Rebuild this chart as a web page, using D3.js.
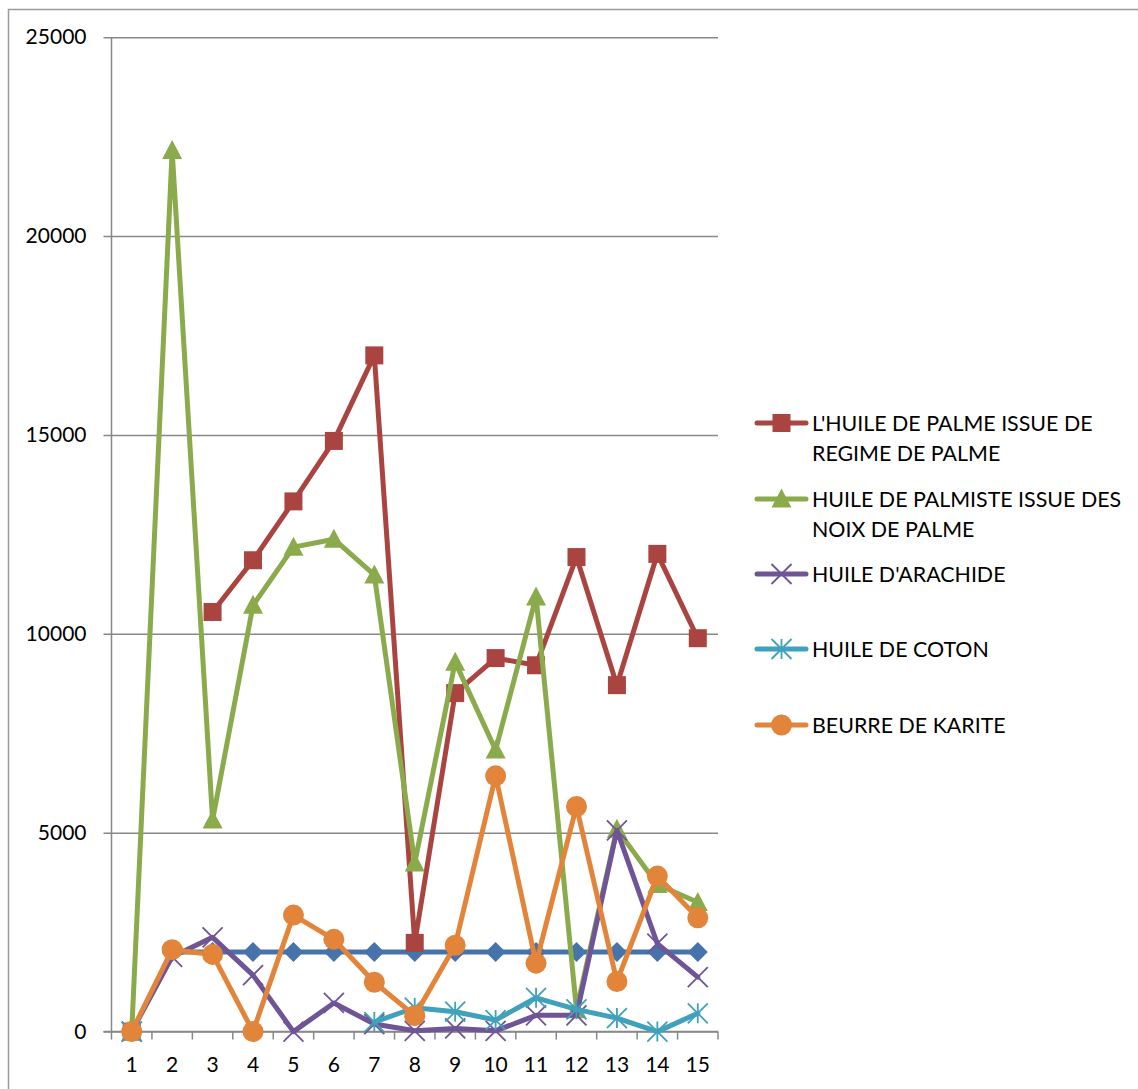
<!DOCTYPE html>
<html>
<head>
<meta charset="utf-8">
<script src="https://cdn.jsdelivr.net/npm/d3@7"></script>
<style>
  html, body { margin: 0; padding: 0; background: #fff; }
  svg { display: block; }
  text { font-family: Lato, "Open Sans", sans-serif; fill: #000; }
</style>
</head>
<body>
<svg id="chart" width="1138" height="1089"></svg>
<script>
// Categories along the x axis
const categories = [1, 2, 3, 4, 5, 6, 7, 8, 9, 10, 11, 12, 13, 14, 15];
const yTicks = [0, 5000, 10000, 15000, 20000, 25000];

// Series values (null = no value for that category)
const reference2000   = [null, 2000, 2000, 2000, 2000, 2000, 2000, 2000, 2000, 2000, 2000, 2000, 2000, 2000, 2000];
const huilePalme      = [0, null, 10550, 11850, 13330, 14850, 17000, 2230, 8510, 9390, 9210, 11930, 8710, 12010, 9890];
const huilePalmiste   = [0, 22150, 5320, 10720, 12180, 12380, 11480, 4240, 9290, 7080, 10930, 550, 5090, 3700, 3250];
const huileArachide   = [0, 1880, 2370, 1420, 0, 720, 190, 20, 80, 20, 410, 410, 5060, 2210, 1370];
const huileCoton      = [0, null, null, null, null, null, 240, 600, 500, 290, 850, 560, 340, 0, 460];
const beurreKarite    = [0, 2060, 1940, 0, 2930, 2320, 1240, 400, 2170, 6430, 1720, 5660, 1260, 3910, 2860];

const seriesNames = [
  "",
  "L'HUILE DE PALME ISSUE DE REGIME DE PALME",
  "HUILE DE PALMISTE ISSUE DES NOIX DE PALME",
  "HUILE D'ARACHIDE",
  "HUILE DE COTON",
  "BEURRE DE KARITE"
];

const series = [
  { name: seriesNames[0], values: reference2000, color: "#4674AA", marker: "diamond", legend: false },
  { name: seriesNames[1], values: huilePalme,    color: "#AA4441", marker: "square",  legend: true },
  { name: seriesNames[2], values: huilePalmiste, color: "#8AAA4B", marker: "triangle", legend: true },
  { name: seriesNames[3], values: huileArachide, color: "#6F5496", marker: "x",       legend: true },
  { name: seriesNames[4], values: huileCoton,    color: "#3FA1BB", marker: "star",    legend: true },
  { name: seriesNames[5], values: beurreKarite,  color: "#E3843B", marker: "circle",  legend: true }
];

const svg = d3.select("#chart");

// Outer chart border
svg.append("rect")
  .attr("x", 8.5).attr("y", 9.5)
  .attr("width", 1160).attr("height", 1100)
  .attr("fill", "none").attr("stroke", "#9a9a9a").attr("stroke-width", 1.5);

const plot = { left: 111.5, right: 718, top: 37.2, bottom: 1031.6 };

const x = d3.scalePoint().domain(categories).range([plot.left, plot.right]).padding(0.5);
const xBand = d3.scaleBand().domain(categories).range([plot.left, plot.right]);
const y = d3.scaleLinear().domain([0, 25000]).range([plot.bottom, plot.top]);

const gridColor = "#888888";

// Horizontal gridlines with outward ticks on the value axis
const yAxis = d3.axisLeft(y).tickValues(yTicks).tickSize(plot.right - plot.left + 8).tickFormat(d => d).tickPadding(17);
const yg = svg.append("g").attr("transform", `translate(${plot.right},0)`).call(yAxis);
yg.select(".domain").remove();
yg.selectAll(".tick line").attr("stroke", gridColor).attr("stroke-width", 1.5);
yg.selectAll(".tick text").style("font-size", "21px").style("font-family", "Lato, sans-serif").attr("fill", "#000");

// Vertical value axis line
svg.append("line")
  .attr("x1", plot.left).attr("x2", plot.left)
  .attr("y1", plot.top).attr("y2", plot.bottom)
  .attr("stroke", gridColor).attr("stroke-width", 1.5);

// Category axis: line, boundary ticks and labels
const xg = svg.append("g").attr("transform", `translate(0,${plot.bottom})`);
xg.append("line")
  .attr("x1", plot.left - 8).attr("x2", plot.right)
  .attr("stroke", gridColor).attr("stroke-width", 1.5);
const boundaries = categories.map(c => xBand(c)).concat([xBand(categories[categories.length - 1]) + xBand.bandwidth()]);
xg.selectAll("line.tk").data(boundaries).enter().append("line")
  .attr("class", "tk")
  .attr("x1", d => d).attr("x2", d => d)
  .attr("y1", 0).attr("y2", 8)
  .attr("stroke", gridColor).attr("stroke-width", 1.5);
xg.selectAll("text").data(categories).enter().append("text")
  .attr("x", d => x(d)).attr("y", 40)
  .attr("text-anchor", "middle")
  .style("font-size", "21px")
  .text(d => d);

// Marker shapes
function drawMarker(g, type, color, size) {
  const s = size;
  if (type === "diamond") {
    const r = s / 2;
    g.append("path").attr("d", `M0,${-r}L${r},0L0,${r}L${-r},0Z`).attr("fill", color);
  } else if (type === "square") {
    g.append("rect").attr("x", -s / 2).attr("y", -s / 2).attr("width", s).attr("height", s).attr("fill", color);
  } else if (type === "triangle") {
    const h = s * 0.95;
    g.append("path").attr("d", `M0,${-h * 0.55}L${s / 2},${h * 0.45}L${-s / 2},${h * 0.45}Z`).attr("fill", color);
  } else if (type === "circle") {
    g.append("circle").attr("r", s / 2).attr("fill", color);
  } else if (type === "x") {
    const r = s / 2;
    g.append("path").attr("d", `M${-r},${-r}L${r},${r}M${-r},${r}L${r},${-r}`)
      .attr("stroke", color).attr("stroke-width", 1.8).attr("fill", "none");
  } else if (type === "star") {
    const r = s / 2;
    g.append("path").attr("d", `M${-r},${-r}L${r},${r}M${-r},${r}L${r},${-r}M0,${-r}L0,${r}`)
      .attr("stroke", color).attr("stroke-width", 1.8).attr("fill", "none");
  }
}

const markerSize = { diamond: 20, square: 18, triangle: 20, circle: 21, x: 20, star: 20 };

const line = d3.line()
  .defined(d => d.v !== null)
  .x(d => x(d.c))
  .y(d => y(d.v));

series.forEach(s => {
  const pts = categories.map((c, i) => ({ c, v: s.values[i] }));
  const g = svg.append("g");
  g.append("path")
    .datum(pts)
    .attr("d", line)
    .attr("fill", "none")
    .attr("stroke", s.color)
    .attr("stroke-width", 5)
    .attr("stroke-linejoin", "round")
    .attr("stroke-linecap", "round");
  pts.filter(p => p.v !== null).forEach(p => {
    const m = g.append("g").attr("transform", `translate(${x(p.c)},${y(p.v)})`);
    drawMarker(m, s.marker, s.color, markerSize[s.marker]);
  });
});

// Legend
const legendEntries = series.filter(s => s.legend);
const legendRowY = [423, 499, 574, 649, 725];
const legendTextX = 812;
const wrapWidth = 330;
const lineHeight = 30;

legendEntries.forEach((s, i) => {
  const cy = legendRowY[i];
  const g = svg.append("g");
  g.append("line")
    .attr("x1", 757).attr("x2", 806).attr("y1", cy).attr("y2", cy)
    .attr("stroke", s.color).attr("stroke-width", 5).attr("stroke-linecap", "round");
  const m = g.append("g").attr("transform", `translate(781.5,${cy})`);
  drawMarker(m, s.marker, s.color, markerSize[s.marker]);

  const t = g.append("text")
    .attr("x", legendTextX).attr("y", cy + 7.5)
    .style("font-size", "21.4px");
  // word wrap
  const words = s.name.split(" ");
  let lineWords = [];
  let tspan = t.append("tspan").attr("x", legendTextX).attr("dy", 0);
  words.forEach(w => {
    lineWords.push(w);
    tspan.text(lineWords.join(" "));
    if (tspan.node().getComputedTextLength() > wrapWidth && lineWords.length > 1) {
      lineWords.pop();
      tspan.text(lineWords.join(" "));
      lineWords = [w];
      tspan = t.append("tspan").attr("x", legendTextX).attr("dy", lineHeight).text(w);
    }
  });
});
</script>
</body>
</html>
